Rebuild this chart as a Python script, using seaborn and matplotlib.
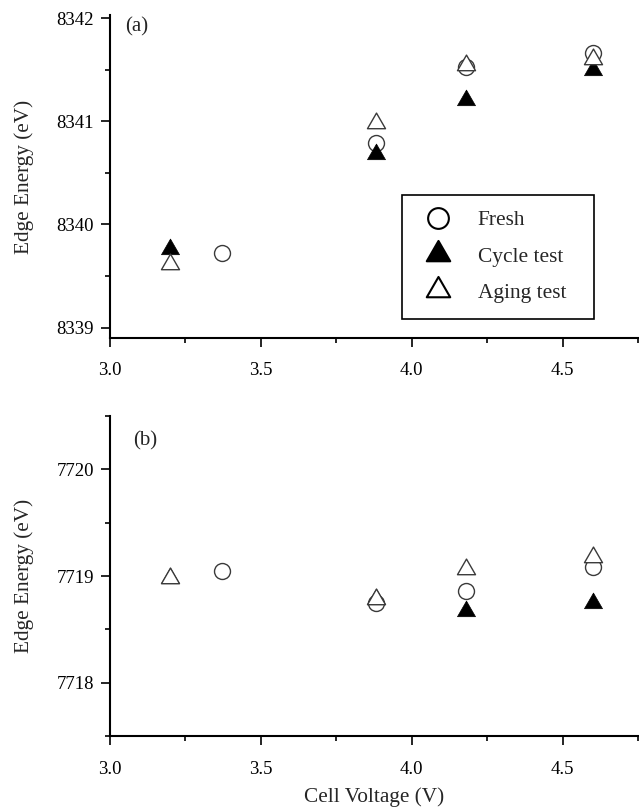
import matplotlib
matplotlib.use("Agg")
import matplotlib.pyplot as plt
import seaborn as sns
import pandas as pd
from matplotlib.ticker import FixedLocator, MultipleLocator

# ---------------- data ----------------
series_names = ["Fresh", "Cycle test", "Aging test"]
fresh_voltage = [3.37, 3.88, 4.18, 4.60]
test_voltage = [3.20, 3.88, 4.18, 4.60]

a_fresh = [8339.72, 8340.79, 8341.53, 8341.66]
a_cycle = [8339.76, 8340.68, 8341.21, 8341.50]
a_aging = [8339.62, 8340.98, 8341.55, 8341.60]

b_fresh = [7719.05, 7718.75, 7718.86, 7719.08]
b_cycle = [7718.98, 7718.78, 7718.67, 7718.75]
b_aging = [7718.98, 7718.78, 7719.07, 7719.18]

x_ticks = [3.0, 3.5, 4.0, 4.5]
x_tick_labels = ["3.0", "3.5", "4.0", "4.5"]
a_yticks = [8339, 8340, 8341, 8342]
b_yticks = [7718, 7719, 7720]
panel_labels = ["(a)", "(b)"]

# ---------------- style ----------------
sns.set_style("ticks")
plt.rcParams["font.family"] = ["Liberation Serif", "DejaVu Serif"]
plt.rcParams["mathtext.fontset"] = "stix"

fig = plt.figure(figsize=(6.39, 8.10), dpi=100)
W, H = 639, 810
def axes_px(left, top, right, bottom):
    return fig.add_axes([left / W, 1 - bottom / H, (right - left) / W, (bottom - top) / H])

ax_a = axes_px(110, 15, 638, 338)
ax_b = axes_px(110, 416, 638, 736)

TRI = (3, 0, 0)
S_TRI = 225
S_CIR = 132
EDGE = "#3a3a3a"

def draw(ax, fresh, cycle, aging):
    df_f = pd.DataFrame({"V": fresh_voltage, "E": fresh})
    df_c = pd.DataFrame({"V": test_voltage, "E": cycle})
    df_a = pd.DataFrame({"V": test_voltage, "E": aging})
    sns.scatterplot(data=df_f, x="V", y="E", ax=ax, marker="o", s=S_CIR,
                    color="white", edgecolor=EDGE, linewidth=1.0,
                    label=series_names[0], zorder=3, legend=False)
    sns.scatterplot(data=df_c, x="V", y="E", ax=ax, marker=TRI, s=S_TRI,
                    color="black", edgecolor="black", linewidth=0.5,
                    label=series_names[1], zorder=4, legend=False)
    sns.scatterplot(data=df_a, x="V", y="E", ax=ax, marker=TRI, s=S_TRI,
                    color="white", edgecolor=EDGE, linewidth=1.0,
                    label=series_names[2], zorder=5, legend=False)

draw(ax_a, a_fresh, a_cycle, a_aging)
draw(ax_b, b_fresh, b_cycle, b_aging)

for ax, yt, ylim in [(ax_a, a_yticks, (8338.9, 8342.03)),
                     (ax_b, b_yticks, (7717.5, 7720.5))]:
    ax.set_xlim(3.0, 4.75)
    ax.set_ylim(*ylim)
    ax.xaxis.set_major_locator(FixedLocator(x_ticks))
    ax.set_xticklabels(x_tick_labels)
    ax.xaxis.set_minor_locator(MultipleLocator(0.25))
    ax.yaxis.set_major_locator(FixedLocator(yt))
    ax.set_yticklabels([str(v) for v in yt])
    ax.yaxis.set_minor_locator(MultipleLocator(0.5))
    sns.despine(ax=ax)
    for sp in ["left", "bottom"]:
        ax.spines[sp].set_linewidth(1.5)
        ax.spines[sp].set_color("black")
    ax.tick_params(which="major", direction="out", length=6.5, width=1.2,
                   color="black", labelsize=13.5, labelcolor="black")
    ax.tick_params(which="minor", direction="out", length=3.6, width=1.2,
                   color="black")
    ax.tick_params(axis="y", which="major", pad=5)
    ax.set_ylabel("Edge Energy (eV)", fontsize=15.3, labelpad=16)
    ax.set_xlabel("")
    ax.grid(False)

ax_a.tick_params(axis="x", which="major", pad=10.8)
ax_b.tick_params(axis="x", which="major", pad=11.5)
ax_b.set_xlabel("Cell Voltage (V)", fontsize=15.3, labelpad=6.8)

ax_a.text(0.051, 0.962, panel_labels[0], transform=ax_a.transAxes,
          ha="center", va="center", fontsize=15)
ax_b.text(0.066, 0.922, panel_labels[1], transform=ax_b.transAxes,
          ha="center", va="center", fontsize=15)

handles, labels = ax_a.get_legend_handles_labels()
leg = ax_a.legend(handles, labels, loc="upper left",
                  bbox_to_anchor=(0.553, 0.065, 0.364, 0.378),
                  mode="expand", borderaxespad=0, fontsize=15.4,
                  markerscale=1.3, scatterpoints=1, scatteryoffsets=[0.5],
                  frameon=True, fancybox=False, framealpha=1,
                  borderpad=0.73, labelspacing=0.76, handlelength=1.9,
                  handletextpad=0.92)
leg.get_frame().set_edgecolor("black")
leg.get_frame().set_linewidth(1.2)
for h in leg.legend_handles:
    h.set_edgecolor("black")
    h.set_linewidth(1.5)

fig.savefig("out.png", dpi=100, facecolor="white")
